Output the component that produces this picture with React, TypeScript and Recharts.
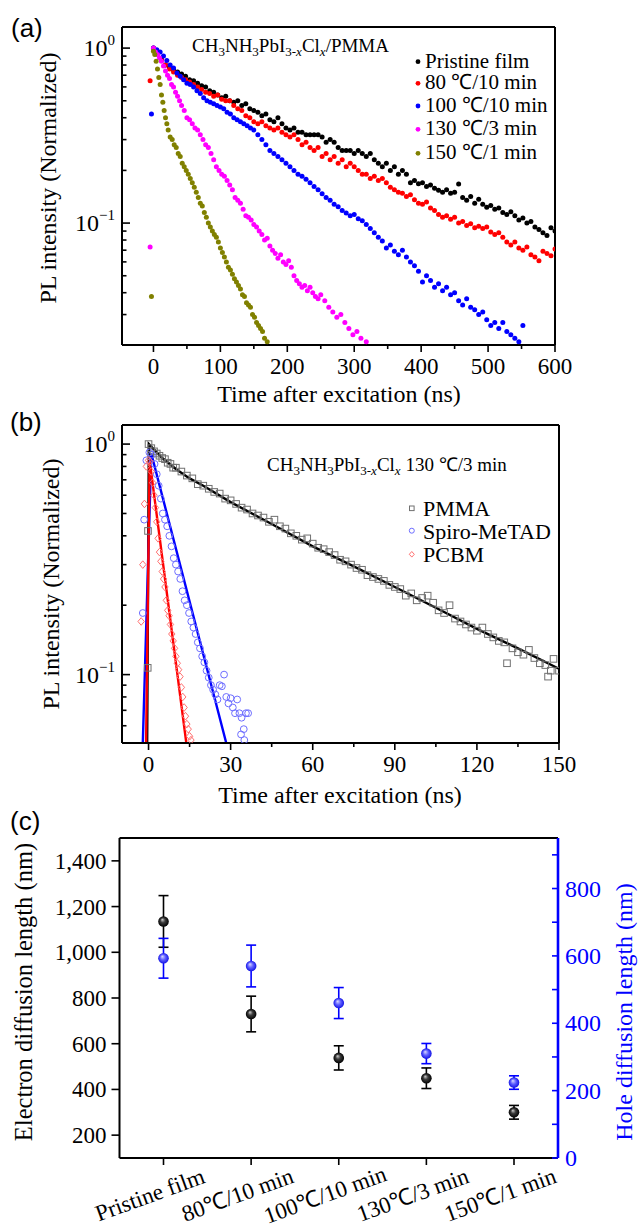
import {
  ScatterChart,
  ComposedChart,
  Scatter,
  Line,
  XAxis,
  YAxis,
  ReferenceLine,
  ErrorBar,
} from "recharts";

const SERIF = '"Liberation Serif", "Times New Roman", serif';
const SANS = '"Liberation Sans", Arial, sans-serif';

// (a) PL decay, [time ns, normalized intensity]
const pristine = [
  [0, 1.0], [6, 0.93], [12, 0.86], [18, 0.8], [24, 0.78], [30, 0.75], [36, 0.73], [42, 0.71], [48, 0.69], [54, 0.66],
  [60, 0.65], [66, 0.63], [72, 0.61], [78, 0.6], [84, 0.57], [90, 0.56], [96, 0.54], [102, 0.52], [108, 0.53], [114, 0.5],
  [120, 0.49], [126, 0.5], [132, 0.47], [138, 0.48], [144, 0.45], [150, 0.44], [156, 0.43], [162, 0.41], [168, 0.42], [174, 0.39],
  [180, 0.38], [186, 0.4], [192, 0.37], [198, 0.35], [204, 0.34], [210, 0.35], [216, 0.33], [222, 0.33], [228, 0.32], [234, 0.32],
  [240, 0.32], [246, 0.32], [252, 0.31], [258, 0.29], [264, 0.3], [270, 0.29], [276, 0.27], [282, 0.26], [288, 0.26], [294, 0.26],
  [300, 0.25], [306, 0.26], [312, 0.25], [318, 0.24], [324, 0.25], [330, 0.23], [336, 0.22], [342, 0.21], [348, 0.22], [354, 0.2],
  [360, 0.21], [366, 0.19], [372, 0.2], [378, 0.19], [384, 0.17], [390, 0.175], [396, 0.168], [402, 0.17], [408, 0.162], [414, 0.165],
  [420, 0.158], [426, 0.154], [432, 0.15], [438, 0.155], [444, 0.148], [450, 0.15], [456, 0.167], [462, 0.14], [468, 0.135], [474, 0.142],
  [480, 0.13], [486, 0.137], [492, 0.128], [498, 0.123], [504, 0.126], [510, 0.12], [516, 0.122], [522, 0.115], [528, 0.112], [534, 0.116],
  [540, 0.11], [546, 0.104], [552, 0.107], [558, 0.1], [564, 0.102], [570, 0.095], [576, 0.092], [582, 0.088], [588, 0.085], [594, 0.094],
  [600, 0.09],
];
const c80 = [
  [-5, 0.65], [0, 0.99], [6, 0.92], [12, 0.85], [18, 0.8], [24, 0.76], [30, 0.73], [36, 0.7], [42, 0.68], [48, 0.66],
  [54, 0.64], [60, 0.62], [66, 0.6], [72, 0.58], [78, 0.56], [84, 0.55], [90, 0.53], [96, 0.54], [102, 0.51], [108, 0.5],
  [114, 0.5], [120, 0.47], [126, 0.45], [132, 0.44], [138, 0.41], [144, 0.4], [150, 0.38], [156, 0.37], [162, 0.38], [168, 0.36],
  [174, 0.35], [180, 0.34], [186, 0.35], [192, 0.33], [198, 0.32], [204, 0.31], [210, 0.32], [216, 0.3], [222, 0.28], [228, 0.29],
  [234, 0.27], [240, 0.26], [246, 0.27], [252, 0.24], [258, 0.25], [264, 0.23], [270, 0.24], [276, 0.22], [282, 0.23], [288, 0.21],
  [294, 0.22], [300, 0.21], [306, 0.2], [312, 0.19], [318, 0.19], [324, 0.18], [330, 0.185], [336, 0.175], [342, 0.18], [348, 0.17],
  [354, 0.16], [360, 0.155], [366, 0.15], [372, 0.148], [378, 0.142], [384, 0.145], [390, 0.136], [396, 0.13], [402, 0.128], [408, 0.132],
  [414, 0.122], [420, 0.118], [426, 0.112], [432, 0.108], [438, 0.11], [444, 0.105], [450, 0.108], [456, 0.1], [462, 0.102], [468, 0.097],
  [474, 0.099], [480, 0.094], [486, 0.096], [492, 0.093], [498, 0.095], [504, 0.089], [510, 0.086], [516, 0.088], [522, 0.083], [528, 0.078],
  [534, 0.075], [540, 0.078], [546, 0.072], [552, 0.07], [558, 0.073], [564, 0.066], [570, 0.064], [576, 0.061], [582, 0.069], [588, 0.067],
  [594, 0.065], [600, 0.071],
];
const c100 = [
  [-3, 0.42], [0, 1.0], [5, 0.98], [10, 0.95], [15, 0.9], [20, 0.85], [25, 0.8], [30, 0.77], [35, 0.72], [40, 0.69],
  [45, 0.66], [50, 0.63], [55, 0.62], [60, 0.6], [65, 0.57], [70, 0.55], [75, 0.52], [80, 0.5], [85, 0.49], [90, 0.48],
  [95, 0.47], [100, 0.46], [105, 0.45], [110, 0.43], [115, 0.42], [120, 0.4], [125, 0.39], [130, 0.38], [135, 0.37], [140, 0.36],
  [145, 0.35], [150, 0.34], [156, 0.32], [162, 0.3], [168, 0.28], [174, 0.26], [180, 0.25], [186, 0.24], [192, 0.23], [198, 0.22],
  [204, 0.21], [210, 0.2], [216, 0.19], [222, 0.185], [228, 0.178], [234, 0.17], [240, 0.162], [246, 0.155], [252, 0.147], [258, 0.14],
  [264, 0.135], [270, 0.128], [276, 0.124], [282, 0.118], [288, 0.114], [294, 0.11], [300, 0.112], [306, 0.106], [312, 0.103], [318, 0.098],
  [324, 0.093], [330, 0.088], [336, 0.083], [342, 0.079], [348, 0.072], [354, 0.075], [360, 0.069], [366, 0.066], [372, 0.07], [378, 0.064],
  [384, 0.06], [390, 0.057], [396, 0.053], [402, 0.046], [408, 0.05], [414, 0.047], [420, 0.043], [426, 0.045], [432, 0.041], [438, 0.043],
  [444, 0.039], [450, 0.04], [456, 0.036], [462, 0.034], [468, 0.037], [474, 0.033], [480, 0.032], [486, 0.03], [492, 0.031], [498, 0.028],
  [504, 0.026], [510, 0.027], [516, 0.025], [522, 0.027], [528, 0.024], [534, 0.023], [540, 0.022], [546, 0.021], [552, 0.026],
];
const c130 = [
  [-5, 0.073], [0, 1.0], [3, 0.95], [6, 0.92], [9, 0.88], [12, 0.84], [15, 0.79], [18, 0.74], [21, 0.7], [24, 0.67],
  [27, 0.62], [30, 0.6], [33, 0.56], [36, 0.53], [39, 0.5], [42, 0.47], [46, 0.44], [50, 0.4], [54, 0.39], [58, 0.37],
  [62, 0.35], [66, 0.34], [70, 0.32], [74, 0.3], [78, 0.28], [82, 0.27], [86, 0.25], [90, 0.23], [94, 0.21], [98, 0.2],
  [102, 0.19], [106, 0.185], [110, 0.175], [114, 0.165], [118, 0.155], [122, 0.14], [126, 0.135], [130, 0.13], [134, 0.12], [138, 0.11],
  [142, 0.108], [146, 0.104], [150, 0.098], [154, 0.095], [158, 0.09], [162, 0.086], [166, 0.08], [170, 0.082], [174, 0.074], [178, 0.07],
  [182, 0.067], [186, 0.063], [190, 0.066], [194, 0.06], [198, 0.058], [202, 0.061], [206, 0.056], [210, 0.05], [214, 0.047], [218, 0.045],
  [222, 0.043], [226, 0.044], [230, 0.041], [234, 0.043], [238, 0.04], [242, 0.038], [246, 0.037], [250, 0.039], [256, 0.036], [262, 0.033],
  [268, 0.031], [274, 0.029], [280, 0.03], [286, 0.027], [292, 0.025], [298, 0.023], [304, 0.024], [310, 0.022], [318, 0.021],
];
const c150 = [
  [-3, 0.038], [0, 0.96], [2, 0.92], [4, 0.84], [6, 0.76], [8, 0.68], [10, 0.62], [12, 0.54], [14, 0.49], [16, 0.44],
  [18, 0.4], [20, 0.37], [22, 0.34], [25, 0.31], [28, 0.3], [31, 0.28], [34, 0.27], [37, 0.25], [40, 0.24], [43, 0.22],
  [46, 0.21], [49, 0.2], [52, 0.19], [55, 0.18], [58, 0.17], [61, 0.16], [64, 0.15], [67, 0.14], [70, 0.13], [73, 0.125],
  [76, 0.115], [79, 0.108], [82, 0.1], [85, 0.095], [88, 0.09], [91, 0.086], [94, 0.083], [97, 0.078], [100, 0.072], [103, 0.068],
  [106, 0.064], [109, 0.06], [112, 0.056], [115, 0.054], [118, 0.051], [121, 0.048], [124, 0.046], [127, 0.044], [130, 0.042], [133, 0.039],
  [136, 0.038], [139, 0.035], [142, 0.034], [145, 0.033], [148, 0.03], [151, 0.029], [154, 0.027], [157, 0.026], [160, 0.025], [163, 0.024],
  [166, 0.022], [170, 0.021],
];
const seriesA = [
  { name: "Pristine film", color: "#000000", pts: pristine },
  { name: "80 ℃/10 min", color: "#ff0000", pts: c80 },
  { name: "100 ℃/10 min", color: "#0000ff", pts: c100 },
  { name: "130 ℃/3 min", color: "#ff00ff", pts: c130 },
  { name: "150 ℃/1 min", color: "#808000", pts: c150 },
];

// (b) 130 ℃/3 min film with quenchers
const pmma = [
  [-0.3, 0.107], [-0.2, 0.42], [0, 1.0], [1, 0.96], [2, 0.93], [3, 0.91], [4, 0.89], [5, 0.87], [6, 0.86], [7, 0.83],
  [8, 0.82], [9, 0.79], [10, 0.79], [12, 0.76], [14, 0.73], [16, 0.71], [18, 0.67], [20, 0.66], [22, 0.64], [24, 0.62],
  [26, 0.61], [28, 0.58], [30, 0.57], [32, 0.55], [34, 0.53], [36, 0.52], [38, 0.5], [40, 0.49], [42, 0.48], [44, 0.46],
  [46, 0.47], [48, 0.44], [50, 0.43], [52, 0.41], [54, 0.4], [56, 0.385], [58, 0.39], [60, 0.37], [62, 0.355], [64, 0.35],
  [66, 0.34], [68, 0.33], [70, 0.315], [72, 0.31], [74, 0.3], [76, 0.29], [78, 0.285], [80, 0.27], [82, 0.265], [84, 0.26],
  [86, 0.255], [88, 0.245], [90, 0.24], [92, 0.235], [94, 0.22], [96, 0.225], [98, 0.21], [100, 0.215], [102, 0.22], [104, 0.205],
  [106, 0.19], [108, 0.185], [110, 0.2], [112, 0.175], [114, 0.17], [116, 0.165], [118, 0.16], [120, 0.155], [122, 0.16], [124, 0.15],
  [126, 0.145], [128, 0.14], [130, 0.138], [131, 0.112], [133, 0.13], [135, 0.125], [137, 0.122], [139, 0.128], [141, 0.118], [143, 0.112],
  [145, 0.11], [146, 0.098], [147, 0.104], [148, 0.117], [150, 0.104],
];
const spiro = [
  [-2.1, 0.185], [-1.6, 0.47], [-0.8, 0.85], [0.3, 0.92], [1.2, 0.9], [2.2, 0.82], [3, 0.74], [3.7, 0.66], [4.5, 0.58], [5.2, 0.5],
  [6, 0.47], [6.8, 0.44], [7.6, 0.4], [8.4, 0.36], [9.2, 0.32], [10, 0.3], [10.8, 0.28], [11.6, 0.26], [12.4, 0.23], [13.2, 0.21],
  [14, 0.2], [14.8, 0.185], [15.6, 0.17], [16.4, 0.16], [17.2, 0.15], [18, 0.138], [18.8, 0.13], [19.6, 0.12], [20.4, 0.113], [21.2, 0.104],
  [22, 0.097], [22.8, 0.09], [23.6, 0.086], [24.4, 0.082], [25.2, 0.078], [26, 0.09], [26.8, 0.089], [27.6, 0.1], [28.4, 0.08], [29.2, 0.075],
  [30, 0.079], [30.8, 0.072], [31.6, 0.068], [32.4, 0.078], [33.2, 0.068], [34, 0.065], [34.8, 0.058], [35.6, 0.068], [36.4, 0.068], [33.8, 0.055],
  [35, 0.052],
];
const pcbm = [
  [-2.7, 0.17], [-2.1, 0.3], [-1.5, 0.55], [-0.8, 0.8], [0, 0.85], [0.5, 0.84], [1, 0.76], [1.5, 0.68], [2, 0.6], [2.5, 0.53],
  [3, 0.46], [3.5, 0.39], [4, 0.34], [4.5, 0.31], [5, 0.28], [5.5, 0.26], [6, 0.24], [6.5, 0.21], [7, 0.19], [7.5, 0.18],
  [8, 0.165], [8.5, 0.15], [9, 0.14], [9.5, 0.13], [10, 0.12], [10.5, 0.112], [11, 0.105], [11.5, 0.098], [12, 0.088], [12.5, 0.08],
  [13, 0.072], [13.5, 0.066], [14, 0.061], [14.5, 0.058], [15, 0.054], [15.5, 0.052],
];
const pmmaFit = [
  [-0.5, 0.0505], [0.1, 1.0], [5, 0.87], [10, 0.78], [15, 0.71], [20, 0.66], [30, 0.56], [45, 0.45], [60, 0.36], [75, 0.295],
  [90, 0.24], [105, 0.195], [120, 0.158], [135, 0.13], [150, 0.106],
];
const spiroFit = [[-2.1, 0.0505], [1.0, 0.91], [28.4, 0.0505]];
const pcbmFit = [[-0.9, 0.0505], [0.4, 0.85], [13.8, 0.0505]];

// (c) diffusion lengths
const conditions = ["Pristine film", "80℃/10 min", "100℃/10 min", "130℃/3 min", "150℃/1 min"];
const electronLen = [1135, 730, 538, 449, 300];
const electronErr = [113, 78, 53, 45, 30];
const holeLen = [593, 570, 460, 310, 224];
const holeErr = [59, 62, 46, 30, 20];

const toPts = (arr: number[][]) => arr.map(([t, v]) => ({ t, v }));

const rowsC = conditions.map((c, i) => ({
  cat: c,
  e: electronLen[i],
  eErr: electronErr[i],
  h: holeLen[i],
  hErr: holeErr[i],
}));

const logTicksA = [0.03, 0.04, 0.05, 0.06, 0.07, 0.08, 0.09, 0.1, 0.2, 0.3, 0.4, 0.5, 0.6, 0.7, 0.8, 0.9, 1];
const logTicksB = [0.06, 0.07, 0.08, 0.09, 0.1, 0.2, 0.3, 0.4, 0.5, 0.6, 0.7, 0.8, 0.9, 1];
const timeTicksA = [0, 50, 100, 150, 200, 250, 300, 350, 400, 450, 500, 550, 600];
const timeTicksB = [0, 15, 30, 45, 60, 75, 90, 105, 120, 135, 150];
const electronTicks = [200, 400, 600, 800, 1000, 1200, 1400];
const holeTicks = [0, 100, 200, 300, 400, 500, 600, 700, 800, 900];

const LogYTick = (props: any) => {
  const { x, y, payload } = props;
  const v = payload.value;
  const major = v === 1 || v === 0.1;
  return (
    <g>
      <line x1={x} x2={x + (major ? 8 : 4.5)} y1={y} y2={y} stroke="#000" strokeWidth={1.6} />
      {major && (
        <text x={x - 7} y={y + 8} textAnchor="end" fontFamily={SERIF} fontSize={24} fill="#000">
          10
          <tspan fontSize={15} dy={-11}>
            {v === 1 ? "0" : "\u22121"}
          </tspan>
        </text>
      )}
    </g>
  );
};

const timeTick = (step: number) => (props: any) => {
  const { x, y, payload } = props;
  const v = payload.value;
  const major = v % step === 0;
  return (
    <g>
      <line x1={x} x2={x} y1={y} y2={y + (major ? 7 : 4)} stroke="#000" strokeWidth={1.6} />
      {major && (
        <text x={x} y={y + 28.5} textAnchor="middle" fontFamily={SERIF} fontSize={23} fill="#000">
          {v}
        </text>
      )}
    </g>
  );
};

const ElectronTick = (props: any) => {
  const { x, y, payload } = props;
  return (
    <g>
      <line x1={x - 8} x2={x} y1={y} y2={y} stroke="#000" strokeWidth={1.6} />
      <text x={x - 13} y={y + 8} textAnchor="end" fontFamily={SERIF} fontSize={23} fill="#000">
        {payload.value.toLocaleString("en-US")}
      </text>
    </g>
  );
};

const HoleTick = (props: any) => {
  const { x, y, payload } = props;
  const v = payload.value;
  return (
    <g>
      <line x1={x - 6} x2={x} y1={y} y2={y} stroke="#0000ff" strokeWidth={1.6} />
      {v % 200 === 0 && (
        <text x={x + 7} y={y + 8} textAnchor="start" fontFamily={SERIF} fontSize={24} fill="#0000ff">
          {v}
        </text>
      )}
    </g>
  );
};

const CatTick = (props: any) => {
  const { x, y, payload } = props;
  const tx = x - 11;
  const ty = y + 44;
  return (
    <g>
      <line x1={x} x2={x} y1={y} y2={y + 7} stroke="#000" strokeWidth={1.6} />
      <text x={tx} y={ty} textAnchor="middle" transform={`rotate(-20 ${tx} ${ty})`} fontFamily={SERIF} fontSize={23} fill="#000">
        {payload.value}
      </text>
    </g>
  );
};

const Sub = ({ children, italic }: any) => (
  <tspan fontSize={13} dy={4} fontStyle={italic ? "italic" : "normal"}>
    {children}
  </tspan>
);

const Formula = ({ x, y, tail }: { x: number; y: number; tail: string }) => (
  <text x={x} y={y} fontFamily={SERIF} fontSize={19} fill="#000">
    CH<Sub>3</Sub>
    <tspan dy={-4}>NH</tspan>
    <Sub>3</Sub>
    <tspan dy={-4}>PbI</tspan>
    <Sub>3-</Sub>
    <tspan fontSize={13} fontStyle="italic">x</tspan>
    <tspan dy={-4}>Cl</tspan>
    <Sub italic>x</Sub>
    <tspan dy={-4}>{tail}</tspan>
  </text>
);

const frame = { stroke: "#000", strokeWidth: 2 };

const App = () => {
  return (
    <div style={{ position: "absolute", left: 0, top: 0, width: 639, height: 1229, background: "#fff" }}>
      {/* (a) */}
      <div style={{ position: "absolute", left: 0, top: 0 }}>
        <ScatterChart width={639} height={420} margin={{ top: 27, right: 84, bottom: 74, left: 121 }}>
          <XAxis
            type="number"
            dataKey="t"
            domain={[-47, 600]}
            allowDataOverflow
            ticks={timeTicksA}
            interval={0}
            height={1}
            tickSize={0}
            tickMargin={0}
            tickLine={false}
            axisLine={frame}
            tick={timeTick(100)}
          />
          <YAxis
            type="number"
            dataKey="v"
            scale="log"
            domain={[0.0201, 1.32]}
            allowDataOverflow
            ticks={logTicksA}
            interval={0}
            width={1}
            tickSize={0}
            tickMargin={0}
            tickLine={false}
            axisLine={frame}
            tick={LogYTick}
          />
          <ReferenceLine y={1.32} {...frame} />
          <ReferenceLine x={600} {...frame} />
          {seriesA.map((s) => (
            <Scatter
              key={s.name}
              data={toPts(s.pts)}
              isAnimationActive={false}
              shape={(p: any) => <circle cx={p.cx} cy={p.cy} r={2.5} fill={s.color} />}
            />
          ))}
        </ScatterChart>
      </div>

      {/* (b) */}
      <div style={{ position: "absolute", left: 0, top: 400 }}>
        <ComposedChart width={639} height={400} margin={{ top: 25, right: 80, bottom: 56, left: 121 }}>
          <XAxis
            type="number"
            dataKey="t"
            domain={[-9.7, 150]}
            allowDataOverflow
            ticks={timeTicksB}
            interval={0}
            height={1}
            tickSize={0}
            tickMargin={0}
            tickLine={false}
            axisLine={frame}
            tick={timeTick(30)}
          />
          <YAxis
            type="number"
            dataKey="v"
            scale="log"
            domain={[0.0505, 1.21]}
            allowDataOverflow
            ticks={logTicksB}
            interval={0}
            width={1}
            tickSize={0}
            tickMargin={0}
            tickLine={false}
            axisLine={frame}
            tick={LogYTick}
          />
          <ReferenceLine y={1.21} {...frame} />
          <ReferenceLine x={150} {...frame} />
          <Scatter
            data={toPts(pmma)}
            isAnimationActive={false}
            shape={(p: any) => (
              <rect x={p.cx - 3.3} y={p.cy - 3.3} width={6.6} height={6.6} fill="none" stroke="#707070" strokeWidth={1} />
            )}
          />
          <Scatter
            data={toPts(spiro)}
            isAnimationActive={false}
            shape={(p: any) => <circle cx={p.cx} cy={p.cy} r={3.4} fill="none" stroke="#6e6eff" strokeWidth={1} />}
          />
          <Scatter
            data={toPts(pcbm)}
            isAnimationActive={false}
            shape={(p: any) => (
              <path
                d={`M${p.cx},${p.cy - 3.8}L${p.cx + 3.2},${p.cy}L${p.cx},${p.cy + 3.8}L${p.cx - 3.2},${p.cy}Z`}
                fill="none"
                stroke="#ff7070"
                strokeWidth={1}
              />
            )}
          />
          <Line data={toPts(pmmaFit)} dataKey="v" type="linear" stroke="#000" strokeWidth={2.4} dot={false} activeDot={false} isAnimationActive={false} />
          <Line data={toPts(spiroFit)} dataKey="v" type="linear" stroke="#0000ff" strokeWidth={2.4} dot={false} activeDot={false} isAnimationActive={false} />
          <Line data={toPts(pcbmFit)} dataKey="v" type="linear" stroke="#ff0000" strokeWidth={2.4} dot={false} activeDot={false} isAnimationActive={false} />
        </ComposedChart>
      </div>

      {/* (c) */}
      <div style={{ position: "absolute", left: 0, top: 800 }}>
        <ComposedChart width={639} height={429} data={rowsC} margin={{ top: 38, right: 80, bottom: 70, left: 118.5 }}>
          <defs>
            <radialGradient id="ballBlack" cx="50%" cy="50%" r="50%" fx="38%" fy="32%">
              <stop offset="0%" stopColor="#d0d0d0" />
              <stop offset="45%" stopColor="#3c3c3c" />
              <stop offset="100%" stopColor="#000" />
            </radialGradient>
            <radialGradient id="ballBlue" cx="50%" cy="50%" r="50%" fx="38%" fy="32%">
              <stop offset="0%" stopColor="#dcdcff" />
              <stop offset="50%" stopColor="#6060ff" />
              <stop offset="100%" stopColor="#1414e6" />
            </radialGradient>
          </defs>
          <XAxis
            type="category"
            dataKey="cat"
            scale="point"
            padding={{ left: 44, right: 44 }}
            interval={0}
            height={1}
            tickSize={0}
            tickMargin={0}
            tickLine={false}
            axisLine={frame}
            tick={CatTick}
          />
          <YAxis
            yAxisId="left"
            type="number"
            domain={[100, 1500]}
            allowDataOverflow
            ticks={electronTicks}
            interval={0}
            width={1}
            tickSize={0}
            tickMargin={0}
            tickLine={false}
            axisLine={frame}
            tick={ElectronTick}
          />
          <YAxis
            yAxisId="right"
            orientation="right"
            type="number"
            domain={[0, 950]}
            allowDataOverflow
            ticks={holeTicks}
            interval={0}
            width={1}
            tickSize={0}
            tickMargin={0}
            tickLine={false}
            axisLine={{ stroke: "#0000ff", strokeWidth: 2.6 }}
            tick={HoleTick}
          />
          <ReferenceLine yAxisId="left" y={1500} {...frame} />
          <Line
            yAxisId="left"
            dataKey="e"
            stroke="none"
            isAnimationActive={false}
            activeDot={false}
            dot={(p: any) => <circle key={`e${p.index}`} cx={p.cx} cy={p.cy} r={5.3} fill="url(#ballBlack)" />}
          >
            <ErrorBar dataKey="eErr" width={5} stroke="#000" strokeWidth={1.6} isAnimationActive={false} />
          </Line>
          <Line
            yAxisId="right"
            dataKey="h"
            stroke="none"
            isAnimationActive={false}
            activeDot={false}
            dot={(p: any) => <circle key={`h${p.index}`} cx={p.cx} cy={p.cy} r={5.3} fill="url(#ballBlue)" />}
          >
            <ErrorBar dataKey="hErr" width={5} stroke="#0000ff" strokeWidth={1.6} isAnimationActive={false} />
          </Line>
        </ComposedChart>
      </div>

      {/* labels, legends, annotations */}
      <svg width={639} height={1229} style={{ position: "absolute", left: 0, top: 0, pointerEvents: "none" }}>
        <text x={11} y={37} fontFamily={SANS} fontSize={26} fill="#000">(a)</text>
        <text x={10} y={431} fontFamily={SANS} fontSize={26} fill="#000">(b)</text>
        <text x={10} y={830} fontFamily={SANS} fontSize={26} fill="#000">(c)</text>

        <text x={55.5} y={178} transform="rotate(-90 55.5 178)" textAnchor="middle" fontFamily={SERIF} fontSize={24} fill="#000">
          PL intensity (Normalized)
        </text>
        <text x={339} y={402} textAnchor="middle" fontFamily={SERIF} fontSize={24} fill="#000">
          Time after excitation (ns)
        </text>
        <Formula x={192} y={52} tail="/PMMA" />
        {seriesA.map((s, i) => {
          const ry = [61.7, 83.3, 106, 129.3, 153.3][i];
          return (
            <g key={s.name}>
              <circle cx={418} cy={ry} r={2.4} fill={s.color} />
              <text x={425} y={ry + 6} fontFamily={SERIF} fontSize={21} fill="#000">
                {s.name}
              </text>
            </g>
          );
        })}

        <text x={59} y={584} transform="rotate(-90 59 584)" textAnchor="middle" fontFamily={SERIF} fontSize={24} fill="#000">
          PL intensity (Normalized)
        </text>
        <text x={340} y={803} textAnchor="middle" fontFamily={SERIF} fontSize={24} fill="#000">
          Time after excitation (ns)
        </text>
        <Formula x={267} y={471} tail=" 130 ℃/3 min" />
        <rect x={409.5} y={506} width={4.6} height={4.6} fill="none" stroke="#707070" strokeWidth={1} />
        <text x={423} y={516} fontFamily={SERIF} fontSize={22} fill="#000">PMMA</text>
        <circle cx={411.8} cy={530.7} r={2.5} fill="none" stroke="#6e6eff" strokeWidth={1} />
        <text x={423} y={538.7} fontFamily={SERIF} fontSize={22} fill="#000">Spiro-MeTAD</text>
        <path d="M411.8,551.5L414.3,554.3L411.8,557.1L409.3,554.3Z" fill="none" stroke="#ff7070" strokeWidth={1} />
        <text x={423} y={562.3} fontFamily={SERIF} fontSize={22} fill="#000">PCBM</text>

        <text x={32} y={992} transform="rotate(-90 32 992)" textAnchor="middle" fontFamily={SERIF} fontSize={24.5} fill="#000">
          Electron diffusion length (nm)
        </text>
        <text x={632} y={1012} transform="rotate(-90 632 1012)" textAnchor="middle" fontFamily={SERIF} fontSize={24} fill="#0000ff">
          Hole diffusion length (nm)
        </text>
      </svg>
    </div>
  );
};

export default App;
